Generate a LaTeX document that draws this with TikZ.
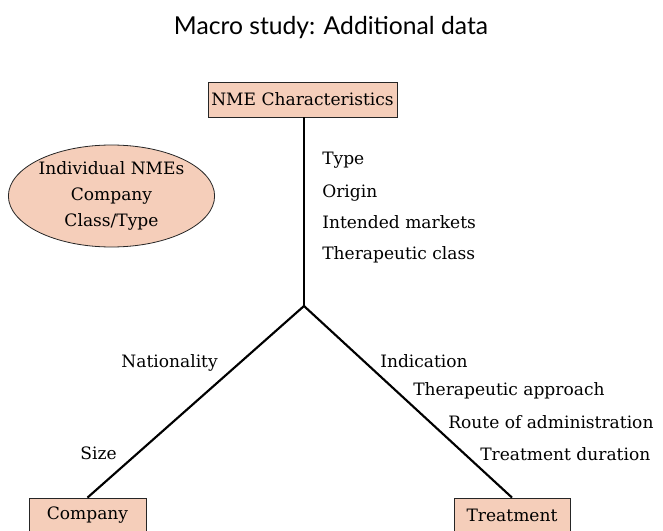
\documentclass[tikz,border=0pt]{standalone}
\usepackage{fontspec}
\setmainfont{DejaVu Serif}
\newfontfamily\titlefont{Lato}
\usetikzlibrary{shapes.geometric}
\definecolor{peach}{RGB}{245,206,186}
\tikzset{
  box/.style={draw=black!85, line width=0.6pt, fill=peach, minimum height=26.25pt, inner sep=0pt},
  item/.style={inner sep=0pt, font=\fontsize{12.8}{14}\selectfont},
  branch/.style={line width=1.6pt},
}
\begin{document}
\begin{tikzpicture}[x=0.75pt, y=-0.75pt]
\useasboundingbox (0,0) rectangle (663,531);
% title
\node[anchor=base, inner sep=0pt, font=\titlefont\fontsize{18.5}{20}\selectfont] (title) at (331,35) {Macro study: Additional data};
% boxes
\node[box, item, minimum width=141.75pt] (nme) at (302.5,99.5) {NME Characteristics};
\node[box, item, minimum width=87.75pt] (company) at (87.5,515.5) {Company};
\node[box, item, minimum width=87pt] (treatment) at (512,515.5) {Treatment};
\node[ellipse, draw=black!85, line width=0.6pt, fill=peach, minimum width=151.5pt, minimum height=76.5pt, inner sep=0pt, align=center, font=\fontsize{12.8}{19.5}\selectfont] (scope) at (111.5,196) {Individual NMEs\\Company\\Class/Type};
% branches
\coordinate (hub) at (304,306);
\draw[branch] (nme.south -| hub) -- (hub);
\draw[branch] (hub) -- (company.north);
\draw[branch] (hub) -- (treatment.north);
% labels
\node[item, anchor=base west] (type) at (322,165) {Type};
\node[item, anchor=base west] (origin) at (322,197) {Origin};
\node[item, anchor=base west] (markets) at (322,228) {Intended markets};
\node[item, anchor=base west] (class) at (322,259) {Therapeutic class};
\node[item, anchor=base east] (nation) at (218,367) {Nationality};
\node[item, anchor=base east] (size) at (117,459) {Size};
\node[item, anchor=base west] (indic) at (380,367) {Indication};
\node[item, anchor=base west] (approach) at (413,395) {Therapeutic approach};
\node[item, anchor=base west] (route) at (448,428) {Route of administration};
\node[item, anchor=base west] (duration) at (480,460) {Treatment duration};
\end{tikzpicture}
\end{document}
